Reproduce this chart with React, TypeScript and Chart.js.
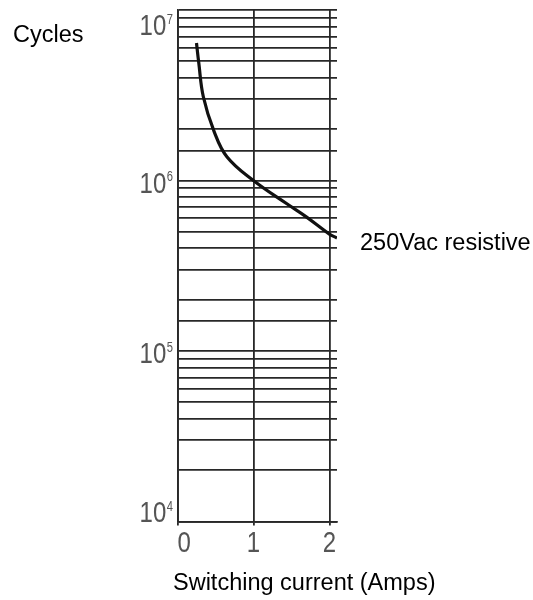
import { useEffect, useRef } from 'react';
import { Chart, registerables } from 'chart.js';

Chart.register(...registerables);

// ---- data ----
const currentAmps = [0.25, 0.28, 0.34, 0.48, 0.65, 1.0, 1.44, 1.7, 2.0, 2.1];
const cycles = [6.4e6, 4.9e6, 3.1e6, 1.95e6, 1.38e6, 1.0e6, 7.3e5, 6.1e5, 4.85e5, 4.6e5];
const xTickValues = [0, 1, 2];
const xTickLabels = ['0', '1', '2'];
const yMajorValues = [1e4, 1e5, 1e6, 1e7];
const yMantissaLabel = '10';
const yExponentLabels = ['4', '5', '6', '7'];
const seriesLabel = '250Vac resistive';
const yAxisTitle = 'Cycles';
const xAxisTitle = 'Switching current (Amps)';

const GRID = '#282828';
const TICK_TEXT = '#555555';
const SANS = '"Liberation Sans", Arial, sans-serif';
const NARROW_X = 0.8; // horizontal squeeze that mimics the condensed tick font

function drawNarrow(ctx: CanvasRenderingContext2D, text: string, x: number, y: number, size: number) {
  ctx.save();
  ctx.font = size + 'px ' + SANS;
  ctx.translate(x, y);
  ctx.scale(NARROW_X, 1);
  ctx.textAlign = 'left';
  ctx.textBaseline = 'alphabetic';
  ctx.fillText(text, 0, 0);
  ctx.restore();
}

function narrowWidth(ctx: CanvasRenderingContext2D, text: string, size: number) {
  ctx.save();
  ctx.font = size + 'px ' + SANS;
  const w = ctx.measureText(text).width * NARROW_X;
  ctx.restore();
  return w;
}

const annotations = {
  id: 'annotations',
  afterDraw(chart: any) {
    const { ctx, chartArea } = chart;
    const xs = chart.scales.x;
    const ys = chart.scales.y;
    ctx.save();

    // y tick labels: 10^n, with a small raised exponent
    ctx.fillStyle = TICK_TEXT;
    const big = 30;
    const small = 14;
    yMajorValues.forEach((v, i) => {
      const py = ys.getPixelForValue(v);
      const base = Math.min(Math.max(py + 12, chartArea.top + 25), chartArea.bottom + 0.5);
      const right = chartArea.left - 4.5;
      const ew = narrowWidth(ctx, yExponentLabels[i], small);
      const mw = narrowWidth(ctx, yMantissaLabel, big);
      drawNarrow(ctx, yExponentLabels[i], right - ew, base - 11.5, small);
      drawNarrow(ctx, yMantissaLabel, right - ew - 0.5 - mw, base, big);
    });

    // x tick labels
    xTickValues.forEach((v, i) => {
      const px = xs.getPixelForValue(v);
      const w = narrowWidth(ctx, xTickLabels[i], big);
      const left = Math.max(px - w / 2, chartArea.left);
      drawNarrow(ctx, xTickLabels[i], left, chartArea.bottom + 30.5, big);
    });

    // titles
    ctx.fillStyle = '#000000';
    ctx.font = '23.5px ' + SANS;
    ctx.textBaseline = 'alphabetic';
    ctx.textAlign = 'left';
    ctx.fillText(yAxisTitle, 13, chartArea.top + 32);
    ctx.fillText(xAxisTitle, chartArea.left - 4.5, chartArea.bottom + 68.5);
    const meta = chart.getDatasetMeta(0);
    const last = meta.data[meta.data.length - 1];
    ctx.fillText(seriesLabel, chartArea.right + 23, last.y + 12);
    ctx.restore();
  },
};

export default function App() {
  const ref = useRef<HTMLCanvasElement | null>(null);

  useEffect(() => {
    if (!ref.current) return;
    const chart = new Chart(ref.current, {
      type: 'line',
      data: {
        datasets: [
          {
            label: seriesLabel,
            data: currentAmps.map((x, i) => ({ x, y: cycles[i] })),
            borderColor: '#111111',
            borderWidth: 3.2,
            pointRadius: 0,
            fill: false,
            tension: 0.4,
          },
        ],
      },
      options: {
        responsive: false,
        animation: false,
        events: [],
        layout: { padding: { top: 10, right: 196, bottom: 0, left: 0 } },
        plugins: {
          legend: { display: false },
          tooltip: { enabled: false },
          title: { display: false },
        },
        scales: {
          x: {
            type: 'linear',
            min: 0,
            max: 2.1,
            afterBuildTicks: (scale: any) => {
              scale.ticks = xTickValues.map((v) => ({ value: v }));
            },
            afterFit: (scale: any) => {
              scale.height = 78.5;
              scale.paddingLeft = 0;
              scale.paddingRight = 0;
            },
            grid: {
              color: GRID,
              lineWidth: 1.8,
              drawTicks: true,
              tickLength: 4,
              tickColor: GRID,
            },
            border: { display: true, color: GRID, width: 1.8 },
            ticks: { display: false, autoSkip: false },
          },
          y: {
            type: 'logarithmic',
            min: yMajorValues[0],
            max: yMajorValues[yMajorValues.length - 1],
            afterFit: (scale: any) => {
              scale.width = 177.5;
              scale.paddingTop = 0;
              scale.paddingBottom = 0;
            },
            grid: {
              color: GRID,
              lineWidth: 1.8,
              drawTicks: false,
            },
            border: { display: true, color: GRID, width: 1.8 },
            ticks: { display: false, autoSkip: false },
          },
        },
      },
      plugins: [annotations],
    } as any);
    return () => chart.destroy();
  }, []);

  return (
    <div
      style={{
        position: 'fixed',
        left: 0,
        top: 0,
        width: 533,
        height: 600,
        background: '#ffffff',
      }}
    >
      <canvas ref={ref} width={533} height={600} style={{ display: 'block' }} />
    </div>
  );
}
